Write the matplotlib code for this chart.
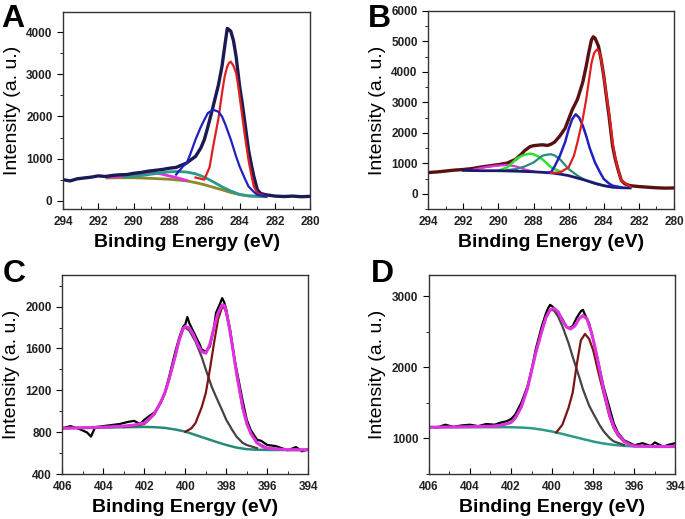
import matplotlib
matplotlib.use("Agg")
import matplotlib.pyplot as plt
from matplotlib.ticker import MultipleLocator

# ---- panel A : C 1s ----
a_raw_x = [294, 293.6, 293.2, 292.8, 292.4, 292, 291.6, 291.2, 290.8, 290.4, 290, 289.6, 289.2, 288.8,
           288.4, 288, 287.6, 287.2, 287, 286.8, 286.5, 286.2, 286, 285.8, 285.5, 285.2, 285, 284.85,
           284.7, 284.6, 284.5, 284.35, 284.2, 284, 283.85, 283.7, 283.5, 283.35, 283.2, 283, 282.8,
           282.5, 282, 281.5, 281, 280.5, 280]
a_raw_y = [500, 470, 520, 540, 560, 590, 575, 600, 615, 620, 650, 670, 700, 720, 740, 770, 790, 860,
           895, 960, 1050, 1250, 1450, 1750, 2240, 2750, 3190, 3650, 4090, 4060, 4020, 3800, 3420, 2710,
           2300, 1840, 1210, 880, 580, 260, 170, 140, 110, 100, 110, 95, 105]
a_red_x = [286.5, 286, 285.7, 285.5, 285.2, 285, 284.85, 284.7, 284.6, 284.5, 284.35, 284.2, 284.1, 284,
           283.85, 283.7, 283.5, 283.35, 283.2, 283, 282.5]
a_red_y = [550, 500, 800, 1290, 1950, 2550, 2950, 3190, 3270, 3300, 3200, 3030, 2780, 2470, 2000, 1530,
           970, 640, 340, 180, 100]
a_blue_x = [287.6, 287.2, 287, 286.8, 286.5, 286.2, 286, 285.8, 285.5, 285.2, 285, 284.8, 284.5, 284.2,
            284, 283.7, 283.5, 283.2, 283, 282.5]
a_blue_y = [620, 820, 890, 1100, 1450, 1750, 1920, 2080, 2160, 2110, 2000, 1800, 1450, 1050, 810, 520,
            340, 210, 140, 100]
a_teal_x = [290.5, 290, 289.5, 289, 288.5, 288, 287.5, 287, 286.5, 286, 285.5, 285, 284.5, 284, 283.5,
            283, 282.5]
a_teal_y = [570, 580, 600, 630, 660, 685, 695, 680, 640, 560, 450, 330, 230, 150, 115, 105, 100]
a_mag_x = [291.5, 291, 290.5, 290, 289.5, 289, 288.5, 288, 287.5, 287]
a_mag_y = [560, 570, 590, 620, 650, 660, 640, 590, 540, 480]
a_base_x = [291.5, 291, 290, 289, 288, 287, 286.5, 286, 285.5, 285, 284.5, 284, 283.5, 283, 282.5]
a_base_y = [540, 545, 545, 530, 510, 470, 430, 380, 320, 260, 195, 145, 115, 105, 95]

# ---- panel B : C 1s ----
b_raw_x = [294, 293.5, 293, 292.5, 292, 291.5, 291, 290.5, 290, 289.5, 289, 288.7, 288.5, 288.2, 288,
           287.7, 287.5, 287.2, 287, 286.8, 286.5, 286.2, 286, 285.8, 285.5, 285.2, 285, 284.85, 284.7,
           284.6, 284.5, 284.3, 284.15, 284, 283.85, 283.7, 283.5, 283.35, 283.2, 283, 282.8, 282.5, 282,
           281.5, 281, 280.5, 280]
b_raw_y = [700, 720, 750, 780, 800, 830, 880, 920, 960, 1010, 1140, 1300, 1420, 1550, 1580, 1600, 1610,
           1590, 1630, 1700, 1900, 2150, 2450, 2750, 3100, 3650, 4190, 4650, 5050, 5150, 5110, 4840,
           4400, 3860, 3200, 2550, 1580, 1150, 820, 440, 330, 270, 240, 220, 200, 190, 195]
b_red_x = [287, 286.5, 286, 285.7, 285.5, 285.2, 285, 284.85, 284.7, 284.55, 284.4, 284.3, 284.2, 284,
           283.85, 283.7, 283.5, 283.35, 283.2, 283, 282.5]
b_red_y = [690, 700, 870, 1250, 1690, 2450, 3100, 3700, 4290, 4620, 4730, 4690, 4570, 3860, 3250, 2660,
           1690, 1200, 820, 440, 240]
b_blue_x = [287.2, 287, 286.8, 286.5, 286.2, 286, 285.8, 285.6, 285.4, 285.2, 285, 284.8, 284.5, 284.2,
            284, 283.7, 283.5, 283]
b_blue_y = [690, 710, 900, 1250, 1700, 2120, 2450, 2610, 2500, 2250, 1900, 1500, 1030, 690, 490, 340,
            270, 215]
b_teal_x = [289.5, 289, 288.5, 288, 287.5, 287.2, 287, 286.8, 286.5, 286, 285.5, 285, 284.5, 284, 283.5]
b_teal_y = [780, 815, 900, 1030, 1250, 1290, 1300, 1260, 1140, 815, 600, 435, 330, 270, 220]
b_green_x = [290, 289.5, 289.2, 289, 288.7, 288.5, 288.2, 288, 287.7, 287.5, 287.2, 287, 286.7, 286.5]
b_green_y = [760, 870, 1020, 1140, 1240, 1285, 1320, 1300, 1220, 1140, 980, 870, 790, 740]
b_mag_x = [291.5, 291, 290.5, 290, 289.5, 289, 288.5, 288]
b_mag_y = [780, 850, 900, 930, 950, 900, 800, 730]
b_base_x = [292, 291, 290, 289, 288, 287, 286.5, 286, 285.5, 285, 284.5, 284, 283.5, 283, 282.5]
b_base_y = [770, 760, 760, 745, 725, 690, 650, 600, 520, 440, 350, 270, 220, 200, 195]

# ---- panel C : N 1s ----
c_raw_x = [406, 405.6, 405.2, 404.8, 404.6, 404.4, 404, 403.6, 403.2, 402.8, 402.5, 402.2, 402, 401.8,
           401.5, 401.2, 401, 400.8, 400.5, 400.3, 400.1, 400, 399.9, 399.8, 399.6, 399.5, 399.3, 399.2,
           399, 398.8, 398.6, 398.5, 398.3, 398.2, 398.1, 398, 397.8, 397.6, 397.5, 397.2, 397, 396.8,
           396.5, 396.3, 396, 395.6, 395.3, 395, 394.6, 394.3, 394]
c_raw_y = [840, 860, 835, 800, 760, 850, 860, 870, 880, 900, 910, 880, 920, 950, 990, 1080, 1180, 1320,
           1560, 1700, 1810, 1830, 1900, 1840, 1760, 1720, 1640, 1590, 1570, 1620, 1800, 1940, 2030,
           2080, 2040, 1970, 1760, 1500, 1400, 1100, 920, 820, 730, 720, 680, 670, 650, 630, 660, 620,
           640]
c_fit_x = [406, 405, 404, 403, 402.5, 402, 401.8, 401.5, 401.2, 401, 400.8, 400.5, 400.3, 400.1, 400,
           399.8, 399.6, 399.4, 399.2, 399, 398.8, 398.6, 398.4, 398.2, 398.1, 398, 397.85, 397.7,
           397.5, 397.2, 397, 396.8, 396.5, 396.2, 396, 395, 394]
c_fit_y = [840, 845, 850, 860, 870, 890, 920, 980, 1090, 1175, 1300, 1520, 1680, 1790, 1810, 1795, 1730,
           1640, 1570, 1555, 1640, 1800, 1940, 2015, 2010, 1950, 1800, 1620, 1365, 1040, 885, 790, 700,
           660, 650, 635, 635]
c_grey_x = [403, 402.5, 402, 401.8, 401.5, 401.2, 401, 400.8, 400.5, 400.3, 400.1, 400, 399.8, 399.5,
            399.2, 399, 398.7, 398.5, 398.2, 398, 397.7, 397.5, 397.2, 397, 396.5]
c_grey_y = [850, 860, 880, 915, 975, 1085, 1170, 1300, 1520, 1680, 1790, 1800, 1770, 1665, 1520, 1400,
            1230, 1140, 1010, 920, 820, 760, 700, 680, 650]
c_dred_x = [400, 399.7, 399.5, 399.2, 399, 398.8, 398.6, 398.4, 398.2, 398.1, 398, 397.8, 397.6, 397.5,
            397.2, 397, 396.8, 396.5, 396]
c_dred_y = [805, 840, 890, 1040, 1175, 1400, 1650, 1880, 1995, 1990, 1940, 1750, 1500, 1365, 1030, 885,
            790, 700, 650]
c_base_x = [406, 404, 403, 402, 401.5, 401, 400.5, 400, 399.5, 399, 398.5, 398, 397.5, 397, 396.5, 396,
            395, 394]
c_base_y = [840, 845, 850, 852, 850, 843, 828, 808, 775, 743, 710, 680, 655, 640, 635, 633, 632, 632]

# ---- panel D : N 1s ----
d_raw_x = [406, 405.6, 405.2, 404.8, 404.4, 404, 403.6, 403.2, 402.8, 402.5, 402.2, 402, 401.8, 401.5,
           401.2, 401, 400.8, 400.5, 400.3, 400.2, 400.1, 400, 399.8, 399.5, 399.3, 399.2, 399, 398.8,
           398.6, 398.5, 398.4, 398.2, 398, 397.8, 397.5, 397.2, 397, 396.8, 396.5, 396.2, 396, 395.6,
           395.2, 395, 394.6, 394.3, 394]
d_raw_y = [1160, 1150, 1190, 1160, 1180, 1190, 1170, 1200, 1190, 1220, 1240, 1270, 1330, 1500, 1730,
           1960, 2250, 2580, 2760, 2830, 2880, 2860, 2800, 2680, 2570, 2550, 2580, 2700, 2790, 2810,
           2740, 2620, 2390, 2130, 1730, 1420, 1210, 1080, 970, 930, 900, 930, 890, 940, 880, 910, 930]
d_fit_x = [406, 405, 404, 403, 402.5, 402, 401.8, 401.5, 401.2, 401, 400.8, 400.5, 400.3, 400.1, 399.9,
           399.7, 399.5, 399.3, 399.1, 398.9, 398.7, 398.5, 398.3, 398.1, 398, 397.8, 397.5, 397.2, 397,
           396.8, 396.5, 396.2, 396, 395, 394]
d_fit_y = [1155, 1158, 1162, 1168, 1180, 1220, 1280, 1440, 1700, 1950, 2200, 2510, 2700, 2810, 2830,
           2780, 2660, 2570, 2540, 2580, 2680, 2730, 2680, 2500, 2390, 2130, 1690, 1330, 1160, 1060,
           955, 905, 890, 882, 882]
d_grey_x = [403, 402.5, 402, 401.8, 401.5, 401.2, 401, 400.8, 400.5, 400.3, 400.1, 399.9, 399.7, 399.5,
            399.2, 399, 398.7, 398.5, 398.2, 398, 397.7, 397.5, 397.2, 397, 396.5]
d_grey_y = [1165, 1185, 1225, 1280, 1440, 1700, 1950, 2200, 2510, 2700, 2810, 2800, 2710, 2580, 2340,
            2150, 1880, 1690, 1460, 1350, 1190, 1100, 1000, 955, 905]
d_dred_x = [399.8, 399.5, 399.2, 399, 398.8, 398.6, 398.4, 398.2, 398, 397.8, 397.5, 397.2, 397, 396.8,
            396.5, 396]
d_dred_y = [1080, 1190, 1430, 1640, 2040, 2380, 2470, 2400, 2240, 1990, 1640, 1300, 1140, 1040, 950,
            900]
d_base_x = [406, 404, 403, 402, 401.5, 401, 400.5, 400, 399.5, 399, 398.5, 398, 397.5, 397, 396.5, 396,
            395, 394]
d_base_y = [1155, 1155, 1155, 1155, 1150, 1141, 1120, 1094, 1060, 1024, 988, 953, 925, 906, 892, 884,
            882, 882]

plt.rcParams['font.family'] = ['Liberation Sans', 'DejaVu Sans']

fig = plt.figure(figsize=(6.85, 5.19), dpi=100)

def setup(ax, letter, xlim, ylim, ymaj, ymin, letter_xy):
    ax.set_xlim(*xlim)
    ax.set_ylim(*ylim)
    ax.xaxis.set_major_locator(MultipleLocator(2))
    ax.xaxis.set_minor_locator(MultipleLocator(1))
    ax.yaxis.set_major_locator(MultipleLocator(ymaj))
    ax.yaxis.set_minor_locator(MultipleLocator(ymin))
    ax.tick_params(axis='x', which='both', direction='in', labelsize=8.5, pad=5)
    ax.tick_params(axis='x', which='major', length=4)
    ax.tick_params(axis='x', which='minor', length=2.5)
    ax.tick_params(axis='y', which='both', direction='out', labelsize=8.5)
    ax.tick_params(axis='y', which='major', length=4)
    ax.tick_params(axis='y', which='minor', length=2.5)
    for lab in ax.get_xticklabels() + ax.get_yticklabels():
        lab.set_fontweight('bold')
        lab.set_color('#222222')
    for sp in ax.spines.values():
        sp.set_linewidth(1.0)
        sp.set_color('#333333')
    ax.set_xlabel('Binding Energy (eV)', fontsize=14, fontweight='bold', labelpad=4)
    ax.set_ylabel('Intensity (a. u.)', fontsize=14, fontweight='normal', labelpad=4)
    fig.text(letter_xy[0], letter_xy[1], letter, fontsize=23, fontweight='bold',
             ha='left', va='top')

axA = fig.add_axes([0.092, 0.597, 0.361, 0.380])
axA.plot(a_base_x, a_base_y, color='#8a8a2a', lw=2)
axA.plot(a_mag_x, a_mag_y, color='#e030e0', lw=2)
axA.plot(a_teal_x, a_teal_y, color='#2a9a90', lw=2)
axA.plot(a_raw_x, a_raw_y, color='#1a1a55', lw=2.4)
axA.plot(a_red_x, a_red_y, color='#e02020', lw=1.6)
axA.plot(a_blue_x, a_blue_y, color='#2020c0', lw=1.6)
setup(axA, 'A', (294, 280), (-200, 4480), 1000, 500, (0.002, 0.993))

axB = fig.add_axes([0.625, 0.597, 0.359, 0.382])
axB.plot(b_raw_x, b_raw_y, color='#5a1010', lw=2.4)
axB.plot(b_mag_x, b_mag_y, color='#e030e0', lw=1.6)
axB.plot(b_green_x, b_green_y, color='#30e030', lw=1.8)
axB.plot(b_teal_x, b_teal_y, color='#2a8a7a', lw=1.6)
axB.plot(b_base_x, b_base_y, color='#1a1a70', lw=2)
axB.plot(b_blue_x, b_blue_y, color='#2020c0', lw=1.8)
axB.plot(b_red_x, b_red_y, color='#e02020', lw=1.6)
setup(axB, 'B', (294, 280), (-500, 6000), 1000, 500, (0.537, 0.993))

axC = fig.add_axes([0.091, 0.086, 0.359, 0.384])
axC.plot(c_raw_x, c_raw_y, color='black', lw=1.6)
axC.plot(c_base_x, c_base_y, color='#2a8a7a', lw=1.8)
axC.plot(c_grey_x, c_grey_y, color='#444444', lw=1.6)
axC.plot(c_dred_x, c_dred_y, color='#7a1515', lw=1.6)
axC.plot(c_fit_x, c_fit_y, color='#e030e0', lw=2.2)
setup(axC, 'C', (406, 394), (400, 2300), 400, 200, (0.004, 0.5))

axD = fig.add_axes([0.626, 0.086, 0.360, 0.384])
axD.plot(d_raw_x, d_raw_y, color='black', lw=1.6)
axD.plot(d_base_x, d_base_y, color='#2a9a8a', lw=1.8)
axD.plot(d_grey_x, d_grey_y, color='#444444', lw=1.6)
axD.plot(d_dred_x, d_dred_y, color='#7a1515', lw=1.6)
axD.plot(d_fit_x, d_fit_y, color='#e030e0', lw=2.2)
setup(axD, 'D', (406, 394), (490, 3300), 1000, 500, (0.541, 0.5))

fig.savefig('out.png', dpi=100)
